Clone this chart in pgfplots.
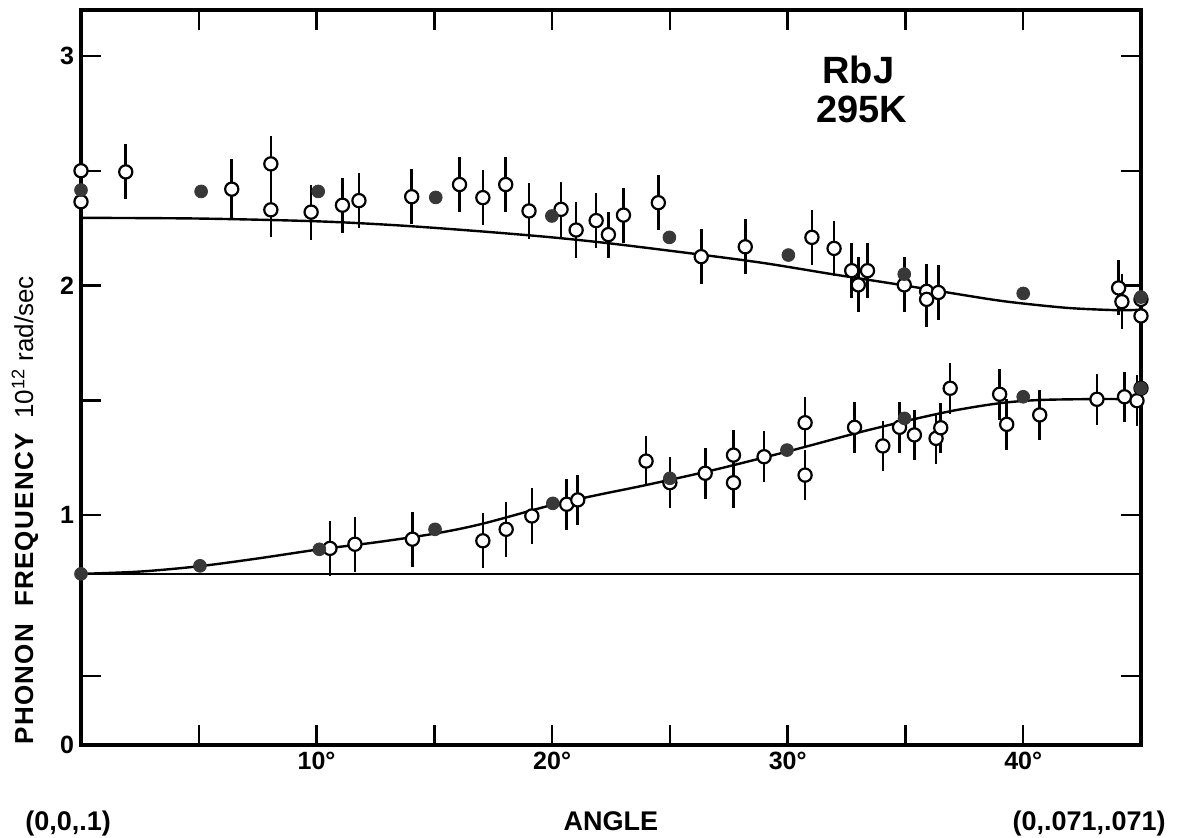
\documentclass[border=0pt]{standalone}
\usepackage{fontspec}
\setmainfont{Liberation Sans}
\usepackage{pgfplots}
\usepackage{pgfplotstable}
\pgfplotsset{compat=1.18}

% upper branch, open circles: x y err
\pgfplotstableread{
x y e
0 2.50 0
0 2.365 0
1.9 2.495 0.12
6.4 2.42 0.13
8.06 2.53 0.12
8.06 2.33 0.12
9.77 2.32 0.12
11.1 2.35 0.12
11.8 2.37 0.12
14.04 2.387 0.12
16.07 2.44 0.12
17.06 2.383 0.12
18.03 2.44 0.12
19.02 2.325 0.12
20.38 2.332 0.12
21.02 2.242 0.12
21.87 2.283 0.12
22.39 2.222 0.10
23.03 2.307 0.12
24.51 2.361 0.12
26.33 2.126 0.12
28.2 2.169 0.12
31.03 2.210 0.12
31.97 2.162 0.12
32.72 2.065 0.12
33.0 2.003 0.12
33.39 2.065 0.12
34.95 2.003 0.12
35.9 1.975 0.12
35.9 1.94 0.12
36.4 1.97 0.12
44.05 1.99 0.12
44.19 1.93 0.12
45 1.94 0.05
45 1.868 0.12
}\upopen

\pgfplotstableread{
x y
0 2.416
5.1 2.41
10.07 2.41
15.06 2.384
19.99 2.303
24.98 2.21
30.03 2.133
34.95 2.05
40.0 1.966
45 1.95
}\upfill

\pgfplotstableread{
x y e
10.57 0.856 0.12
11.63 0.874 0.12
14.07 0.896 0.12
17.06 0.889 0.12
18.05 0.939 0.12
19.14 0.997 0.12
20.62 1.048 0.11
21.09 1.067 0.11
23.99 1.236 0.11
25.0 1.142 0.11
26.5 1.183 0.11
27.7 1.262 0.11
27.7 1.142 0.11
29.0 1.255 0.11
30.74 1.403 0.11
30.74 1.175 0.11
32.84 1.383 0.11
34.04 1.302 0.11
34.75 1.383 0.11
35.38 1.35 0.11
36.3 1.335 0.11
36.5 1.381 0.11
36.9 1.553 0.11
39.0 1.527 0.11
39.3 1.396 0.11
40.7 1.437 0.11
43.13 1.505 0.11
44.3 1.516 0.11
44.83 1.499 0.11
45 1.553 0.17
}\lowopen

\pgfplotstableread{
x y
0 0.745
5.05 0.78
10.12 0.852
15.03 0.939
20.03 1.052
25.0 1.161
29.97 1.284
34.96 1.422
40.0 1.516
45 1.553
}\lowfill

\begin{document}
\begin{tikzpicture}
\begin{axis}[
  scale only axis, width=530pt, height=367.5pt,
  xmin=0, xmax=45, ymin=0, ymax=3.2,
  clip=false,
  axis line style={line width=1.9pt},
  tick style={line width=1.2pt, black},
  major tick length=10pt, minor tick length=10pt,
  tick align=inside,
  xtick={10,20,30,40}, xticklabels={10°,20°,30°,40°},
  minor xtick={5,15,25,35},
  ytick={0,1,2,3}, yticklabels={0,1,2,3},
  minor ytick={0.3,1.5,2.5},
  ticklabel style={font=\bfseries\fontsize{12.5}{12.5}\selectfont},
  open/.style={only marks, mark=*, mark size=3.3pt,
    mark options={fill=white, draw=black, line width=1.1pt},
    error bars/.cd, y dir=both, y explicit,
    error bar style={line width=1.3pt, black}, error mark=none},
  filled/.style={only marks, mark=*, mark size=3.2pt,
    mark options={fill=black!78, draw=black!78}},
]
\coordinate (bl) at (rel axis cs:0,0);
% reference line
\addplot[black, line width=1.1pt] coordinates {(0,0.745) (45,0.745)};
% fitted curves
\addplot[black, line width=1.2pt, smooth] coordinates {
(0,2.295) (5,2.292) (10,2.28) (13.5,2.262) (17,2.236) (20,2.21) (22.6,2.182)
(26.3,2.135) (29,2.098) (32,2.048) (35,2.0) (38.5,1.942) (40,1.922) (42,1.902)
(44,1.893) (45,1.895)};
\addplot[black, line width=1.2pt, smooth] coordinates {
(0,0.745) (2.5,0.755) (5,0.778) (7.5,0.812) (10,0.850) (12.5,0.882) (15,0.92)
(17,0.962) (20,1.045) (22,1.09) (24,1.132) (26.85,1.197) (29.7,1.27) (31,1.305)
(33,1.36) (35,1.41) (37,1.455) (39,1.488) (40.7,1.502) (43.1,1.506) (44.3,1.505) (45,1.495)};
% data
\addplot[open] table[x=x, y=y, y error=e] {\upopen};
\addplot[filled] table[x=x, y=y] {\upfill};
\addplot[open] table[x=x, y=y, y error=e] {\lowopen};
\addplot[filled] table[x=x, y=y] {\lowfill};
% annotations
\node[font=\bfseries\fontsize{19}{19}\selectfont] at (axis cs:33.0,2.94) {RbJ};
\node[font=\bfseries\fontsize{19}{19}\selectfont] at (axis cs:33.15,2.765) {295K};
\node[anchor=base, font=\bfseries\fontsize{13.5}{13.5}\selectfont] at (axis cs:-0.55,-0.372) {(0,0,.1)};
\node[anchor=base, font=\bfseries\fontsize{13.5}{13.5}\selectfont] at (axis cs:22.5,-0.372) {ANGLE};
\node[anchor=base, font=\bfseries\fontsize{13.5}{13.5}\selectfont] at (axis cs:42.8,-0.372) {(0,.071,.071)};
\node[rotate=90, anchor=west, inner sep=0pt, font=\fontsize{13}{13}\selectfont]
  at (axis cs:-2.38,0) {{\bfseries\addfontfeature{LetterSpace=5}PHONON\ \ FREQUENCY}\ \ 10\textsuperscript{12} rad/sec};
\end{axis}
\pgfresetboundingbox
\path[use as bounding box] (bl) ++(-40.5pt,-46.5pt) rectangle ++(590pt,419pt);
\end{tikzpicture}
\end{document}
